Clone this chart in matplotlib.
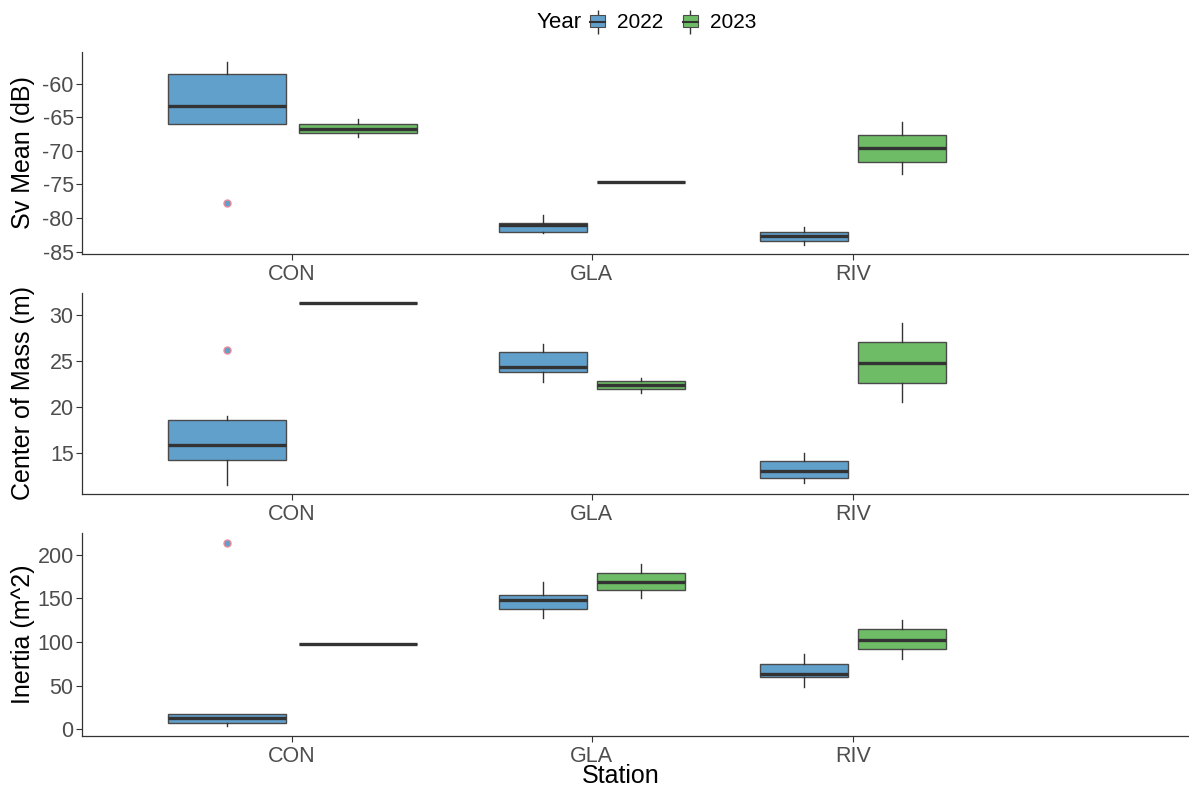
import matplotlib.pyplot as plt
from matplotlib.patches import Patch
from matplotlib.lines import Line2D
from matplotlib.legend_handler import HandlerTuple

plt.rcParams['font.family'] = ['Liberation Sans', 'DejaVu Sans']
plt.rcParams['axes.unicode_minus'] = False

stations = ['CON', 'GLA', 'RIV']
years = ['2022', '2023']
year_colors = {'2022': '#61A0CB', '2023': '#6EBD66'}

# each box: (whislo, q1, med, q3, whishi), one list per year, station order CON, GLA, RIV
sv_2022 = [(-66.0, -66.0, -63.4, -58.6, -56.8), (-82.3, -82.1, -81.0, -80.7, -79.6), (-84.0, -83.4, -82.6, -82.1, -81.3)]
sv_2023 = [(-67.9, -67.3, -66.7, -66.0, -65.3), (-74.7, -74.7, -74.7, -74.7, -74.7), (-73.4, -71.6, -69.6, -67.6, -65.7)]
sv_fliers = {('CON', '2022'): [-77.7]}

com_2022 = [(11.5, 14.2, 15.8, 18.6, 19.0), (22.7, 23.8, 24.4, 25.95, 26.9), (11.7, 12.2, 13.0, 14.1, 15.0)]
com_2023 = [(31.35, 31.35, 31.35, 31.35, 31.35), (21.5, 21.95, 22.4, 22.85, 23.2), (20.5, 22.6, 24.85, 27.1, 29.2)]
com_fliers = {('CON', '2022'): [26.25]}

inert_2022 = [(3.4, 7.7, 13.4, 18.0, 18.0), (127.9, 137.9, 147.9, 154.0, 168.6), (48.6, 59.4, 62.9, 75.1, 86.2)]
inert_2023 = [(97.7, 97.7, 97.7, 97.7, 97.7), (150.2, 159.8, 169.3, 179.7, 189.3), (80.1, 91.6, 102.6, 114.6, 125.3)]
inert_fliers = {('CON', '2022'): [213.4]}

panels = [
    ('Sv Mean (dB)', sv_2022, sv_2023, sv_fliers, (-85.35, -55.3), [-85, -80, -75, -70, -65, -60]),
    ('Center of Mass (m)', com_2022, com_2023, com_fliers, (10.48, 32.45), [15, 20, 25, 30]),
    ('Inertia (m^2)', inert_2022, inert_2023, inert_fliers, (-7.7, 225), [0, 50, 100, 150, 200]),
]

# layout of the station groups along x (the reference has a wider CON group)
centers = [0.851, 2.0, 3.0]
offsets = [0.251, 0.187, 0.187]
widths = [0.452, 0.337, 0.337]

W, H = 1189, 786
fig = plt.figure(figsize=(W / 100, H / 100), dpi=100)
ax_px = [(52, 254), (293, 494), (533, 736)]
left, right = 82, 1188

tick_grey = '#4D4D4D'
edge = '#4A4A4A'
for (ylab, d22, d23, fl, ylim, yticks), (top, bot) in zip(panels, ax_px):
    ax = fig.add_axes([left / W, 1 - bot / H, (right - left) / W, (bot - top) / H])
    for yi, (yr, data) in enumerate(zip(years, [d22, d23])):
        stats, pos, wid = [], [], []
        for si, st in enumerate(stations):
            lo, q1, med, q3, hi = data[si]
            stats.append(dict(whislo=lo, q1=q1, med=med, q3=q3, whishi=hi,
                              fliers=fl.get((st, yr), [])))
            pos.append(centers[si] + (yi - 0.5) * 2 * offsets[si])
            wid.append(widths[si])
        ax.bxp(stats, positions=pos, widths=wid, patch_artist=True, showcaps=False,
               boxprops=dict(facecolor=year_colors[yr], edgecolor=edge, linewidth=1.0),
               medianprops=dict(color='#333333', linewidth=2.4),
               whiskerprops=dict(color='#333333', linewidth=1.0),
               flierprops=dict(marker='o', markersize=5, markerfacecolor=year_colors['2022'],
                               markeredgecolor='#E88A9A', markeredgewidth=1.0))
    ax.set_xlim(0.046, 3 + (right - 852.7) / 261)
    ax.set_ylim(*ylim)
    ax.set_yticks(yticks)
    ax.set_xticks(centers)
    ax.set_xticklabels(stations)
    ax.tick_params(axis='both', colors='#333333', labelcolor=tick_grey, labelsize=15.5,
                   length=4, width=0.8)
    ax.tick_params(axis='x', pad=3)
    ax.tick_params(axis='y', pad=2)
    for s in ['top', 'right']:
        ax.spines[s].set_visible(False)
    for s in ['left', 'bottom']:
        ax.spines[s].set_color('#333333')
        ax.spines[s].set_linewidth(0.9)
    ax.set_ylabel(ylab, fontsize=18, color='black')
    ax.yaxis.set_label_coords(-47 / (right - left), 0.5)
    ax.patch.set_alpha(0)

fig.text(621 / W, 1 - 783 / H, 'Station', ha='center', va='baseline', fontsize=18)

# legend on top
fig.text(582 / W, 1 - 23 / H, 'Year', ha='right', va='center', fontsize=16)
handles = []
for y in years:
    whisk = Line2D([], [], color='#333333', marker='|', markersize=17, linestyle='none',
                   markeredgewidth=1.0)
    box = Patch(facecolor=year_colors[y], edgecolor=edge, linewidth=0.8)
    med = Line2D([], [], color='#333333', linewidth=1.5)
    handles.append((whisk, box, med))
fig.legend(handles, years, loc='center left', bbox_to_anchor=(590 / W, 1 - 23 / H), ncol=2,
           frameon=False, fontsize=15, handlelength=0.72, handleheight=0.55, numpoints=1,
           handler_map={tuple: HandlerTuple(ndivide=1, pad=0)},
           handletextpad=0.6, columnspacing=0.9, borderaxespad=0, borderpad=0)

fig.savefig('out.png', dpi=100)
